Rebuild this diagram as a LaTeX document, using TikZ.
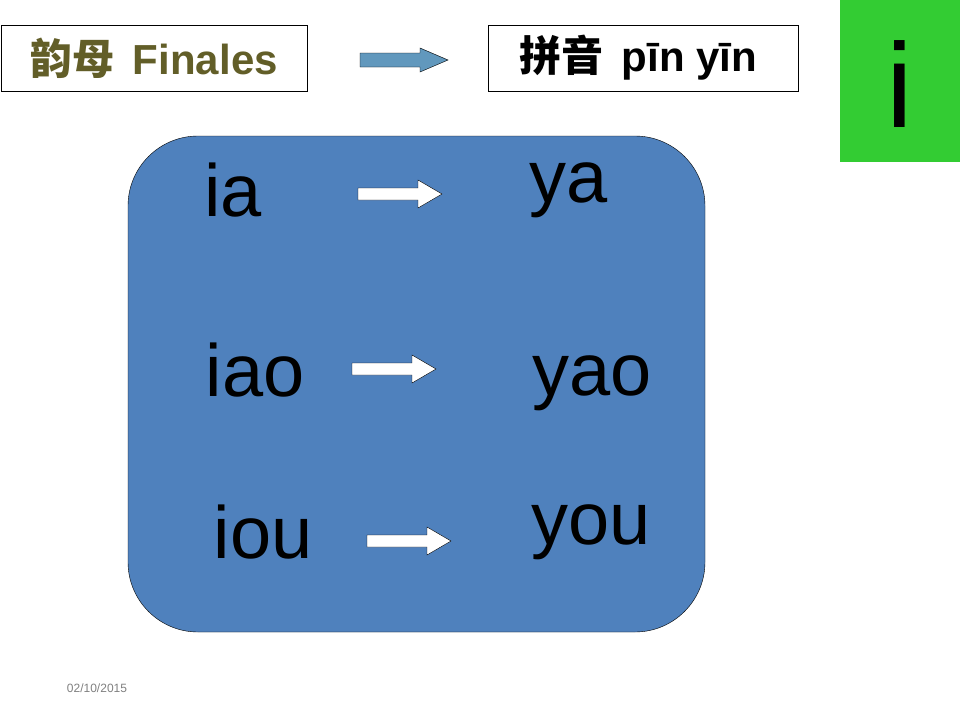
\documentclass[tikz,border=0pt]{standalone}
\usepackage{fontspec}
\setmainfont{Liberation Sans}
\newfontfamily\cjk{Noto Sans CJK SC}
\begin{document}
\begin{tikzpicture}[x=1pt,y=-1pt,
  big/.style={font=\fontsize{74}{74}\selectfont,inner sep=0},
  hdr/.style={font=\fontsize{42}{42}\selectfont\bfseries,inner sep=0}]
\useasboundingbox (0,0) rectangle (960,720);
\fill[white] (0,0) rectangle (960,720);
\node[draw,minimum width=306,minimum height=66,inner sep=0] (b1) at (154,58) {};
\node[hdr,text=olive!60!black] (t1) at (154,58) {{\cjk\bfseries 韵母}\, Finales};
\node[draw,minimum width=310,minimum height=66,inner sep=0] (b2) at (643,58) {};
\node[hdr] (t2) at (638,58) {{\cjk\bfseries 拼音}\, pīn yīn};
\draw[fill=blue!40!cyan!50!gray!90!black!80] (360,53)--(420,53)--(420,48)--(448,60)--(420,72)--(420,67)--(360,67)--cycle;
\node[fill={rgb,255:red,51;green,204;blue,51},minimum width=120,minimum height=162,inner sep=0] (g) at (900,81) {};
\node[font=\fontsize{120}{120}\selectfont,inner sep=0] (gi) at (900,84) {i};
\draw[fill={rgb,255:red,79;green,129;blue,189},rounded corners=70] (128,136) rectangle (705,632);
\node[big] (ia) at (233,190) {ia};
\node[big] (iao) at (255,370) {iao};
\node[big] (iou) at (263,532) {iou};
\node[big] (ya) at (569,190) {ya};
\node[big] (yao) at (592,383) {yao};
\node[big] (you) at (591,532) {you};
\foreach \x/\y in {358/194,352/369,367/541}{
  \draw[fill=white] (\x,\y-6)--(\x+60,\y-6)--(\x+60,\y-14)--(\x+84,\y)--(\x+60,\y+14)--(\x+60,\y+6)--(\x,\y+6)--cycle;}
\node[text=gray,font=\fontsize{12}{12}\selectfont] (d) at (97,688) {02/10/2015};
\end{tikzpicture}
\end{document}
